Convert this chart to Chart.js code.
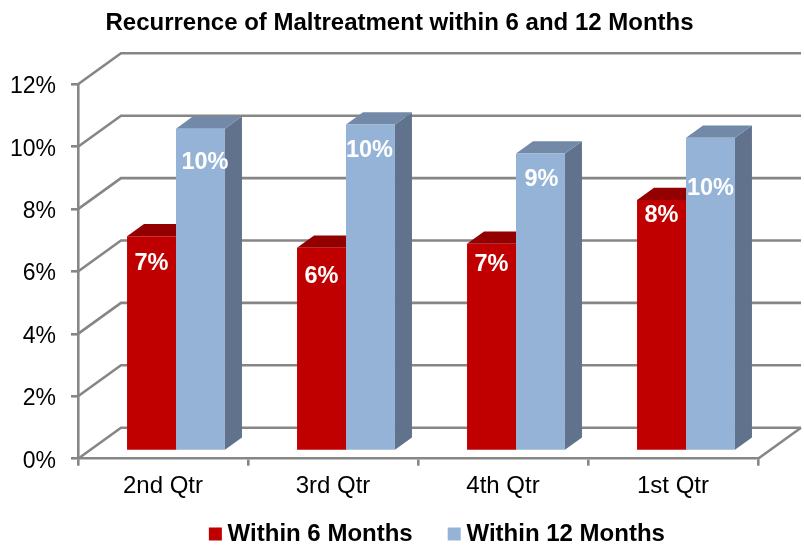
<!DOCTYPE html>
<html><head><meta charset="utf-8">
<style>html,body{margin:0;padding:0;background:#fff}canvas{display:block}</style>
<script src="https://cdn.jsdelivr.net/npm/chart.js@4"></script></head>
<body><canvas id="c" width="804" height="546"></canvas>
<script>
const categories = ['2nd Qtr','3rd Qtr','4th Qtr','1st Qtr'];
const within6 = [6.84,6.47,6.6,8.0];
const within12 = [10.29,10.42,9.49,10.0];
const yTicksMax = 12;
// heights (in % units) at which each printed label sits inside its bar
const labelAt6 = [6.06,5.64,6.0,7.6];
const labelAt12 = [9.27,9.68,8.75,8.46];
const labelShift12 = [4.5,-1,1,0];

const FONT='"Liberation Sans", Arial, sans-serif';
const GRID='#868686';
const WALL={dx:43,dy:-31};      // floor depth
const BAR={dx:17,dy:-12.3};     // bar depth
const SHIFT={x:13,y:-9};        // bars stand in the middle of the floor
const LABEL_DROP=2.5;
const FACES=[{top:'#930000',side:'#7a0000'},{top:'#7289A8',side:'#60728C'}];

function poly(ctx,pts,fill){ctx.beginPath();pts.forEach((p,i)=>i?ctx.lineTo(p[0],p[1]):ctx.moveTo(p[0],p[1]));ctx.closePath();ctx.fillStyle=fill;ctx.fill();}

const scene={
  id:'scene',
  afterLayout(chart){
    // place title and legend where the reference has them
    chart.titleBlock.left+=20.5;chart.titleBlock.right+=20.5;
    chart.legend.left+=61;chart.legend.right+=61;
    chart.legend.top-=25.95;chart.legend.bottom-=25.95;
  },
  beforeDatasetsDraw(chart){
    const {ctx,scales:{y},chartArea:a}=chart;
    // walls
    ctx.save();
    ctx.strokeStyle=GRID;ctx.lineWidth=2.6;ctx.lineJoin='miter';ctx.lineCap='butt';
    y.ticks.forEach(t=>{
      const py=y.getPixelForValue(t.value);
      ctx.beginPath();ctx.moveTo(a.left,py);ctx.lineTo(a.left+WALL.dx,py+WALL.dy);ctx.lineTo(a.right+WALL.dx,py+WALL.dy);ctx.stroke();
    });
    ctx.beginPath();ctx.moveTo(a.right,a.bottom);ctx.lineTo(a.right+WALL.dx,a.bottom+WALL.dy);ctx.stroke();
    ctx.restore();
    // bar top and side faces, then library bars on top
    ctx.save();ctx.translate(SHIFT.x,SHIFT.y);
    chart.data.datasets.forEach((ds,i)=>{
      chart.getDatasetMeta(i).data.forEach(b=>{
        const l=b.x-b.width/2,r=b.x+b.width/2,t=b.y,bt=b.base;
        poly(ctx,[[r,t],[r+BAR.dx,t+BAR.dy],[r+BAR.dx,bt+BAR.dy],[r,bt]],FACES[i].side);
        poly(ctx,[[l,t],[l+BAR.dx,t+BAR.dy],[r+BAR.dx,t+BAR.dy],[r,t]],FACES[i].top);
      });
    });
  },
  afterDatasetsDraw(chart){
    const {ctx,scales:{y}}=chart;
    ctx.restore();
    ctx.save();
    ctx.font='bold 23.5px '+FONT;ctx.fillStyle='#fff';ctx.textAlign='center';ctx.textBaseline='middle';
    [[within6,labelAt6,null],[within12,labelAt12,labelShift12]].forEach((set,i)=>{
      const m=chart.getDatasetMeta(i).data;
      set[0].forEach((v,k)=>{
        ctx.fillText(Math.round(v)+'%',m[k].x+SHIFT.x+(set[2]?set[2][k]:0),y.getPixelForValue(set[1][k])+SHIFT.y+LABEL_DROP);
      });
    });
    ctx.restore();
  }
};

new Chart(document.getElementById('c'),{
  type:'bar',
  data:{labels:categories,datasets:[
    {label:'Within 6 Months',data:within6,backgroundColor:'#C00000',borderWidth:0,clip:false,base:0.0001},
    {label:'Within 12 Months',data:within12,backgroundColor:'#95B3D7',borderWidth:0,clip:false,base:0.0001}
  ]},
  options:{
    responsive:false,animation:false,
    layout:{padding:{top:0,right:46,bottom:-35.95,left:0}},
    categoryPercentage:0.576,barPercentage:1,
    scales:{
      x:{
        afterFit(s){s.height=48;},
        grid:{drawOnChartArea:false,drawTicks:true,tickLength:7,color:GRID,lineWidth:2.6},
        border:{color:GRID,width:2.6},
        ticks:{color:'#000',font:{family:FONT,size:24},padding:6,maxRotation:0}
      },
      y:{
        min:0,max:yTicksMax,
        afterFit(s){s.width=78;},
        grid:{drawOnChartArea:false,drawTicks:true,tickLength:7,color:GRID,lineWidth:2.6},
        border:{color:GRID,width:2.6},
        ticks:{stepSize:2,color:'#000',font:{family:FONT,size:23},padding:15,labelOffset:2.5,callback:v=>v+'%'}
      }
    },
    plugins:{
      title:{display:true,text:'Recurrence of Maltreatment within 6 and 12 Months',color:'#000',
        font:{family:FONT,size:24,weight:'bold'},padding:{top:8.6,bottom:46.9}},
      legend:{position:'bottom',
        labels:{color:'#000',font:{family:FONT,size:24,weight:'bold'},usePointStyle:true,pointStyle:'rect',boxWidth:0.5,boxHeight:13,padding:41.25}
      },
      tooltip:{enabled:false}
    }
  },
  plugins:[scene]
});
</script></body></html>
